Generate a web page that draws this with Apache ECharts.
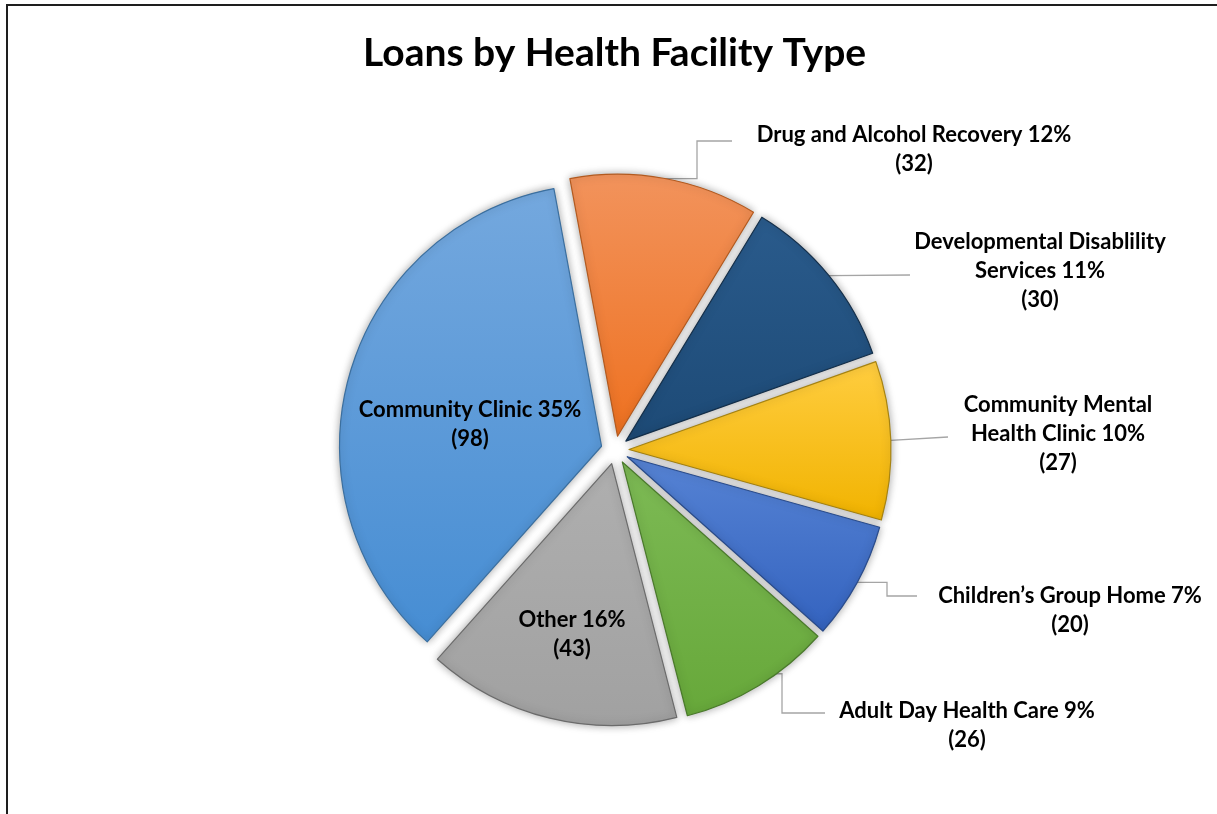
<!DOCTYPE html>
<html>
<head>
<meta charset="utf-8">
<script src="https://cdn.jsdelivr.net/npm/echarts@6/dist/echarts.min.js"></script>
<style>
html,body{margin:0;padding:0;background:#fff;overflow:hidden;width:1217px;height:814px;}
#frame{position:absolute;left:6px;top:4px;width:1400px;height:1000px;border:2px solid #1e1e1e;box-sizing:border-box;}
#chart{position:absolute;left:0;top:0;width:1217px;height:814px;}
</style>
</head>
<body>
<div id="frame"></div>
<div id="chart"></div>
<script>
// ---- data ----
const chartTitle = 'Loans by Health Facility Type';
const categories = ['Community Clinic', 'Drug and Alcohol Recovery', 'Developmental Disablility Services',
  'Community Mental Health Clinic', 'Children\u2019s Group Home', 'Adult Day Health Care', 'Other'];
const labelNames = ['Community Clinic', 'Drug and Alcohol Recovery', 'Developmental Disablility\nServices',
  'Community Mental\nHealth Clinic', 'Children\u2019s Group Home', 'Adult Day Health Care', 'Other'];
const loanCounts = [98, 32, 30, 27, 20, 26, 43];

// ---- style / layout ----
const sliceColors = [
  ['#74a8de', '#468dd3', '#3b6f9f'],
  ['#f2935c', '#ee7120', '#b35a1f'],
  ['#2a5b8c', '#1d4a76', '#142f4a'],
  ['#ffcd40', '#f1b300', '#a68312'],
  ['#5683d4', '#3463bf', '#2a4c8c'],
  ['#7dba55', '#67a83a', '#4a7a2b'],
  ['#afafaf', '#a1a1a1', '#6b6b6b']
];
const CX = 615, CY = 450, R = 262, OFFSET = 14;
// label block centres and leader-line geometry (layout only)
const labelSpots = [
  { x: 470, y: 424 },
  { x: 914, y: 149, end: [732, 141], elbowX: 697, edge: 1 },
  { x: 1040, y: 271, end: [910, 275], edge: 1 },
  { x: 1058, y: 434, end: [948, 437], edge: 1 },
  { x: 1070, y: 610, end: [917, 596], elbowX: 887, edge: 1 },
  { x: 967, y: 725, end: [825, 713], elbowX: 782, edge: 0 },
  { x: 572, y: 634 }
];
const insideLabels = [true, false, false, false, false, false, true];

const chart = echarts.init(document.getElementById('chart'), null, { renderer: 'canvas' });

const seriesData = categories.map(function (name, i) {
  const c = sliceColors[i];
  const item = {
    name: name,
    value: loanCounts[i],
    selected: true,
    itemStyle: {
      color: new echarts.graphic.LinearGradient(0, 0, 0, 1, [
        { offset: 0, color: c[0] }, { offset: 1, color: c[1] }
      ]),
      borderColor: c[2],
      borderWidth: 1.2,
      shadowBlur: 9,
      shadowColor: 'rgba(0,0,0,0.35)'
    }
  };
  if (insideLabels[i]) {
    item.label = { position: 'inside' };
    item.labelLine = { show: false };
  }
  return item;
});

function unit(x, y) {
  const L = Math.hypot(x, y) || 1;
  return [x / L, y / L];
}

const option = {
  animation: false,
  title: {
    text: chartTitle,
    left: 363,
    top: 34,
    padding: 0,
    textStyle: { fontFamily: 'Lato', fontWeight: 'bold', fontSize: 39, color: '#000' }
  },
  series: [{
    type: 'pie',
    center: [CX, CY],
    radius: R,
    startAngle: 228.3,
    clockwise: true,
    selectedMode: 'multiple',
    selectedOffset: OFFSET,
    percentPrecision: 0,
    avoidLabelOverlap: false,
    emphasis: { disabled: true },
    label: {
      show: true,
      position: 'outside',
      formatter: function (p) {
        return labelNames[p.dataIndex] + ' ' + p.percent + '%\n(' + p.value + ')';
      },
      color: '#000',
      fontFamily: 'Lato',
      fontWeight: 'bold',
      fontSize: 22,
      lineHeight: 29,
      align: 'center'
    },
    labelLine: { show: true, lineStyle: { color: '#a5a5a5', width: 1.3 } },
    labelLayout: function (p) {
      const s = labelSpots[p.dataIndex];
      const rect = p.labelRect;
      const hasLine = p.labelLinePoints && p.labelLinePoints.length;
      // direction in which the selected slice (and its label) is pushed out
      let u;
      if (hasLine) {
        u = unit(p.labelLinePoints[0][0] - CX, p.labelLinePoints[0][1] - CY);
      } else {
        u = unit(rect.x + rect.width / 2 - CX, rect.y + rect.height / 2 - CY);
      }
      const ox = u[0] * OFFSET, oy = u[1] * OFFSET;
      const anchorX = p.align === 'left' ? rect.x : (p.align === 'right' ? rect.x + rect.width : rect.x + rect.width / 2);
      const anchorY = p.verticalAlign === 'top' ? rect.y : (p.verticalAlign === 'bottom' ? rect.y + rect.height : rect.y + rect.height / 2);
      const out = {
        dx: s.x - anchorX - ox,
        dy: s.y - anchorY - oy,
        align: 'center',
        verticalAlign: 'middle'
      };
      if (s.end && hasLine) {
        const a0 = p.labelLinePoints[0];
        const a = [a0[0] + ox * s.edge, a0[1] + oy * s.edge];
        let pts;
        if (s.elbowX != null) {
          pts = [a, [s.elbowX, a[1]], [s.elbowX, s.end[1]], [s.end[0], s.end[1]]];
        } else {
          pts = [a, [s.end[0], s.end[1]]];
        }
        out.labelLinePoints = pts.map(function (q) { return [q[0] - ox, q[1] - oy]; });
      }
      return out;
    },
    data: seriesData
  }]
};
chart.setOption(option);
</script>
</body>
</html>
